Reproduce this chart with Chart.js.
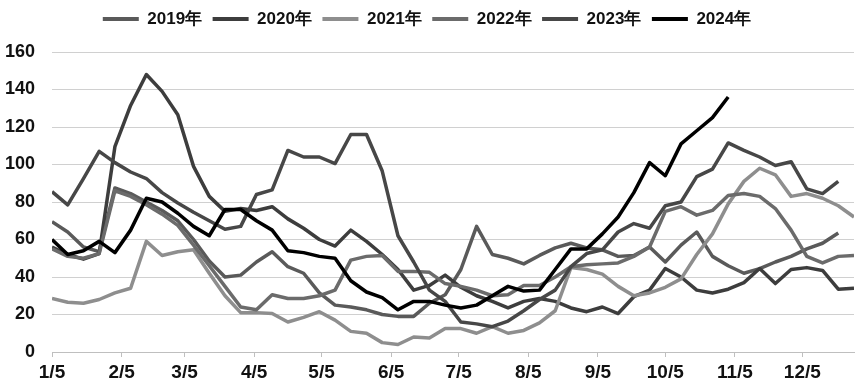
<!DOCTYPE html>
<html>
<head>
<meta charset="utf-8">
<script src="https://cdn.jsdelivr.net/npm/chart.js@4"></script>
<style>
  body { margin: 0; background: #fff; }
  #wrap { width: 867px; height: 392px; }
</style>
</head>
<body>
<div id="wrap"><canvas id="myChart" width="867" height="392"></canvas></div>
<script>
// weekly readings, first point on 1/5, one point every 7 days
const years = ["2019年", "2020年", "2021年", "2022年", "2023年", "2024年"];
const colors = ["#5a5a5a", "#3d3d3d", "#8e8e8e", "#6b6b6b", "#474747", "#000000"];

const v2019 = [69.5, 64, 56, 53.5, 87.5, 84.5, 80, 75.5, 70, 60, 48.5, 40, 41, 48, 53.5, 45.5, 42, 31.5, 25, 24,
  22.5, 20, 19, 19, 26, 30.5, 44, 67, 52, 50, 47, 51.5, 55.5, 58, 55.5, 54.5, 51, 51.5, 56, 48,
  57, 64, 51, 46, 42, 44.5, 48, 51, 55, 58, 63.5];
const v2020 = [56, 52, 49.5, 52.5, 109.5, 131.5, 148, 139, 126.5, 99, 83, 75, 76.5, 75.5, 77.5, 71, 66, 60, 56.5, 65,
  59, 52, 44, 33, 35.5, 41, 34.5, 30, 27, 23.5, 27, 28.5, 27, 23.5, 21.5, 24, 20.5, 29.5, 33, 44.5,
  40, 33, 31.5, 33.5, 37, 44.5, 36.5, 44, 45, 43.5, 33.5, 34];
const v2021 = [28.5, 26.5, 26, 28, 31.5, 34, 59, 51.5, 53.5, 54.5, 42, 30, 21, 21, 20.5, 16, 18.5, 21.5, 17, 11,
  10, 5, 4, 8, 7.5, 12.5, 12.5, 10, 13.5, 10, 11.5, 15.5, 22, 45, 44, 41.5, 35, 30, 31.5, 34.5,
  39, 52, 63, 79, 91, 98, 94.5, 83, 84.5, 82, 78, 72];
const v2022 = [55, 51, 50, 52.5, 86, 83, 78.5, 73.5, 67.5, 57, 46, 35, 24, 22.5, 30.5, 28.5, 28.5, 30, 33, 49,
  51, 51.5, 43, 43, 42.5, 36.5, 35, 33, 30, 30.5, 35.5, 35.5, 40, 45.5, 46.5, 47, 47.5, 51, 56, 75,
  77.5, 73, 75.5, 83.5, 84.5, 83, 76.5, 65, 51, 47.5, 51, 51.5];
const v2023 = [85.5, 78.5, 92.5, 107, 101, 96, 92.5, 85, 79.5, 74.5, 70, 65.5, 67, 84, 86.5, 107.5, 104, 104, 100.5, 116,
  116, 96.5, 62, 48, 33, 27, 16, 15, 13.5, 16.5, 22, 28, 33, 45.5, 52.5, 54.5, 64, 68.5, 66, 78,
  80, 93.5, 97.5, 111.5, 107.5, 104, 99.5, 101.5, 87, 84.5, 91];
const v2024 = [60, 52, 54, 59, 53, 65, 82, 80, 74, 67, 62, 76, 76, 70, 65, 54, 53, 51, 50, 38,
  32, 29, 22.5, 27, 27, 25, 23.5, 25, 30, 35, 32.5, 33, 44, 55, 55, 63, 72, 85, 101, 94,
  111, 118, 125, 136];

// x axis labels and their day offset from 1/5
const monthLabels = ["1/5", "2/5", "3/5", "4/5", "5/5", "6/5", "7/5", "8/5", "9/5", "10/5", "11/5", "12/5"];
const monthDays = [0, 31, 59, 90, 120, 151, 181, 212, 243, 273, 304, 334];
const yTicks = [0, 20, 40, 60, 80, 100, 120, 140, 160];

const allValues = [v2019, v2020, v2021, v2022, v2023, v2024];

function toPoints(values) {
  return values.map(function (v, i) {
    return { x: i * 7, y: v };
  });
}

const datasets = years.map(function (name, i) {
  return {
    label: name,
    data: toPoints(allValues[i]),
    borderColor: colors[i],
    backgroundColor: colors[i],
    borderWidth: 3.5,
    pointRadius: 0,
    tension: 0,
    borderJoinStyle: "round",
    order: years.length - i // later years on top
  };
});

const labelFont = { family: "'Liberation Sans', Arial, sans-serif", size: 18, weight: "bold" };

// extra room between legend and plot
const legendGap = {
  id: "legendGap",
  beforeInit: function (chart) {
    const origFit = chart.legend.fit;
    chart.legend.fit = function () {
      origFit.bind(chart.legend)();
      this.height += 14.5;
    };
  }
};

new Chart("myChart", {
  type: "line",
  data: { datasets: datasets },
  plugins: [legendGap],
  options: {
    responsive: false,
    animation: false,
    devicePixelRatio: 1,
    layout: { padding: { top: 0, right: 13, left: 0, bottom: 0 } },
    plugins: {
      tooltip: { enabled: false },
      legend: {
        position: "top",
        labels: {
          boxWidth: 36,
          boxHeight: 4,
          padding: 10.5,
          color: "#111",
          font: { family: "'Liberation Sans', Arial, sans-serif", size: 17, weight: "bold" },
          generateLabels: function (chart) {
            return chart.data.datasets.map(function (d, i) {
              return {
                text: d.label,
                fillStyle: d.borderColor,
                strokeStyle: d.borderColor,
                lineWidth: 0,
                fontColor: "#111",
                datasetIndex: i,
                hidden: false
              };
            });
          }
        }
      }
    },
    scales: {
      x: {
        type: "linear",
        min: 0,
        max: 357,
        afterBuildTicks: function (scale) {
          scale.ticks = monthDays.map(function (d) { return { value: d }; });
        },
        afterFit: function (scale) { scale.height = 40; },
        ticks: {
          autoSkip: false,
          maxRotation: 0,
          padding: 4,
          color: "#111",
          font: { family: "'Liberation Sans', Arial, sans-serif", size: 19, weight: "bold" },
          callback: function (value, index) { return monthLabels[index]; }
        },
        grid: { drawOnChartArea: false, drawTicks: true, tickLength: 5, color: "#bfbfbf" },
        border: { display: true, color: "#bfbfbf", width: 1 }
      },
      y: {
        min: 0,
        max: 160,
        afterBuildTicks: function (scale) {
          scale.ticks = yTicks.map(function (v) { return { value: v }; });
        },
        afterFit: function (scale) { scale.width = 52; },
        ticks: { padding: 17, color: "#111", font: labelFont },
        grid: { color: "#d0d0d0", drawTicks: false },
        border: { display: false }
      }
    }
  }
});
</script>
</body>
</html>
